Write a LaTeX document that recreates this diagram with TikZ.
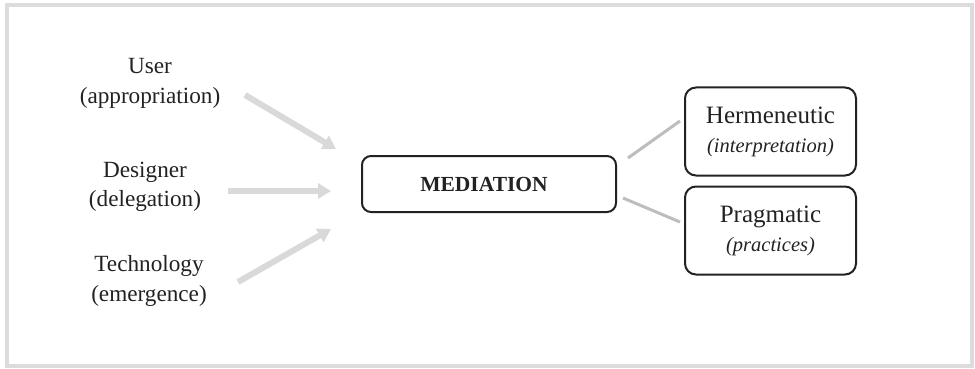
\documentclass[tikz,border=0pt]{standalone}
\usepackage{fontspec}
\setmainfont{Liberation Serif}
\usetikzlibrary{arrows.meta}
\definecolor{framegray}{HTML}{DCDCDC}
\definecolor{arrowgray}{HTML}{D9D9D9}
\definecolor{linkgray}{HTML}{BDBDBD}
\definecolor{ink}{HTML}{222222}
\tikzset{
  source/.style={align=center, text=ink, font=\fontsize{23.2}{29.5}\selectfont, inner sep=0pt},
  mainbox/.style={draw=ink, line width=2pt, rounded corners=9pt, minimum width=254pt,
    minimum height=56pt, inner sep=0pt, font=\fontsize{21.5}{26}\selectfont\bfseries, text=ink},
  modebox/.style={draw=ink, line width=2pt, rounded corners=11pt, minimum width=171pt,
    minimum height=88pt, inner sep=0pt, align=center, text=ink,
    font=\fontsize{25}{29}\selectfont},
  note/.style={},
  flow/.style={draw=arrowgray, line width=6pt, -{Triangle[length=13pt,width=15pt]}},
  link/.style={draw=linkgray, line width=3pt},
}
\newcommand{\gloss}[1]{{\fontsize{20.5}{29}\selectfont\itshape #1}}
\begin{document}
\begin{tikzpicture}[x=1pt,y=-1pt]
  \useasboundingbox (0,0) rectangle (975,369);
  % outer frame
  \draw[framegray, line width=3.5pt] (7,5) rectangle (972,366);

  % sources of mediation
  \node[source] (user) at (150,83.5) {User\\(appropriation)};
  \node[source] (designer) at (145,187) {Designer\\(delegation)};
  \node[source] (tech) at (149,281) {Technology\\(emergence)};

  % central concept
  \node[mainbox] (med) at (489,184) {\hspace*{-10pt}MEDIATION};

  % forms of mediation
  \node[modebox] (herm) at (770.5,131.5) {Hermeneutic\\\gloss{(interpretation)}};
  \node[modebox] (prag) at (770.5,230.5) {Pragmatic\\\gloss{(practices)}};

  % arrow end points
  \coordinate (userA) at (245,95);
  \coordinate (userB) at (336,149);
  \coordinate (desA) at (228,191);
  \coordinate (desB) at (331,191);
  \coordinate (techA) at (238,282);
  \coordinate (techB) at (331,229);

  \draw[flow] (userA) -- (userB);
  \draw[flow] (desA) -- (desB);
  \draw[flow] (techA) -- (techB);

  % links to the two forms
  \coordinate (medNE) at (628,158);
  \coordinate (medSE) at (623,198);
  \coordinate (hermW) at (680,121);
  \coordinate (pragW) at (680,222);
  \draw[link] (medNE) -- (hermW);
  \draw[link] (medSE) -- (pragW);
\end{tikzpicture}
\end{document}
